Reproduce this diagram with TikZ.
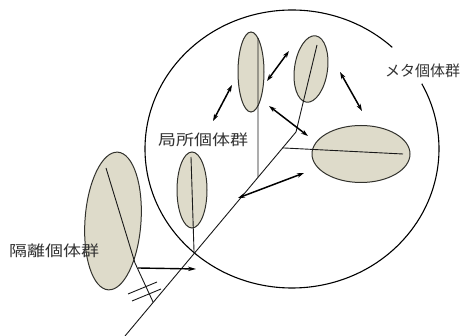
\documentclass[tikz,border=0pt]{standalone}
\usepackage{fontspec}
\newfontfamily\jpfont{Noto Sans CJK JP}
\usetikzlibrary{arrows.meta,calc,shapes.geometric}
\definecolor{popfill}{RGB}{222,219,202}
\definecolor{popedge}{RGB}{50,50,45}
\begin{document}
\begin{tikzpicture}[x=1pt,y=1pt,
  pop/.style={draw=popedge,line width=1pt,fill=popfill,ellipse,inner sep=0pt},
  branch/.style={line width=0.9pt,draw=black!90},
  flow/.style={line width=1.5pt,{Stealth[length=7pt,width=4.5pt]}-{Stealth[length=7pt,width=4.5pt]}},
  oneway/.style={line width=1.4pt,-{Stealth[length=8pt,width=4.5pt]}},
  lab/.style={font=\jpfont\fontsize{15}{15}\selectfont,inner sep=0pt,text=black!80}]
\useasboundingbox (0,0) rectangle (469,-336);
\fill[white] (0,0) rectangle (469,-336);
% metapopulation boundary
\draw[line width=1.1pt] (292,-149) ++(47:147 and 139) arc[start angle=47,end angle=388,x radius=147,y radius=139];
% populations
\node[pop,minimum width=26pt,minimum height=80pt] (A) at (251,-72) {};
\node[pop,minimum width=33pt,minimum height=67pt,rotate=-8] (B) at (311,-69) {};
\node[pop,minimum width=98pt,minimum height=57pt] (C) at (361,-154) {};
\node[pop,minimum width=30pt,minimum height=76pt] (D) at (192,-190) {};
\node[pop,minimum width=56pt,minimum height=138pt,rotate=-4] (E) at (113,-221) {};
% trunk and branches
\coordinate (T0) at (125,-336);
\coordinate (T1) at (296,-132);
\coordinate (Btop) at (317,-45);
\draw[branch] (T0) -- (T1) -- (Btop);
\coordinate (jA) at ($(T0)!0.778!(T1)$);
\coordinate (jD) at ($(T0)!0.404!(T1)$);
\coordinate (jC) at ($(T0)!0.922!(T1)$);
\coordinate (jE) at ($(T0)!0.165!(T1)$);
\coordinate (Atop) at (258,-38);
\coordinate (Dtop) at (191,-157);
\coordinate (Cend) at (403,-154);
\coordinate (Etop) at (106,-168);
\coordinate (Emid) at (135,-263);
\draw[branch] (Atop) -- (jA);
\draw[branch] (Dtop) -- (jD);
\draw[branch] (jC) -- (Cend);
\draw[branch] (Etop) -- (Emid) -- (jE);
% barrier marks
\coordinate (b1) at (128,-294);
\coordinate (b2) at (157,-282);
\coordinate (b3) at (132,-301);
\coordinate (b4) at (161,-289);
\draw[branch] (b1) -- (b2);
\draw[branch] (b3) -- (b4);
% isolated population arrow
\coordinate (eS) at (138,-268);
\coordinate (eT) at (196,-269);
\draw[oneway] (eS) -- (eT);
% migration arrows
\coordinate (m1a) at (232,-85);  \coordinate (m1b) at (213,-121);
\coordinate (m2a) at (267,-81);  \coordinate (m2b) at (289,-51);
\coordinate (m3a) at (340,-72);  \coordinate (m3b) at (362,-111);
\coordinate (m4a) at (269,-106); \coordinate (m4b) at (308,-136);
\coordinate (m5a) at (304,-173); \coordinate (m5b) at (238,-198);
\draw[flow] (m1a) -- (m1b);
\draw[flow] (m2a) -- (m2b);
\draw[flow] (m3a) -- (m3b);
\draw[flow] (m4a) -- (m4b);
\draw[flow] (m5a) -- (m5b);
% labels
\node[lab,xscale=1.2] (llocal) at (203,-140) {局所個体群};
\node[lab,anchor=west] (lmeta) at (385,-71) {メタ個体群};
\node[lab,xscale=1.2] (liso) at (54,-251) {隔離個体群};
\end{tikzpicture}
\end{document}
